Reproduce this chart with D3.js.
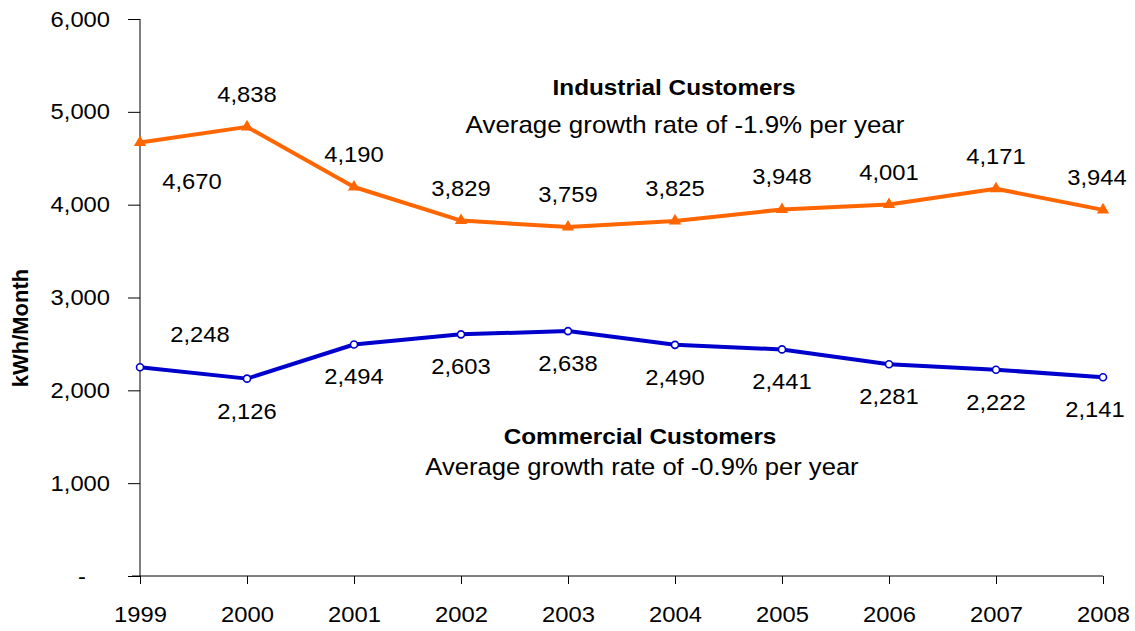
<!DOCTYPE html>
<html>
<head>
<meta charset="utf-8">
<script src="https://cdn.jsdelivr.net/npm/d3@7"></script>
<style>
  html, body { margin: 0; padding: 0; background: #fff; }
  svg text { font-family: "Liberation Sans", Arial, sans-serif; fill: #000; }
</style>
</head>
<body>
<svg id="chart" width="1135" height="631"></svg>
<script>
// Average monthly consumption per customer, 1999-2008
const years = ["1999", "2000", "2001", "2002", "2003", "2004", "2005", "2006", "2007", "2008"];
const industrial = [4670, 4838, 4190, 3829, 3759, 3825, 3948, 4001, 4171, 3944];
const commercial = [2248, 2126, 2494, 2603, 2638, 2490, 2441, 2281, 2222, 2141];
const yTicks = [0, 1000, 2000, 3000, 4000, 5000, 6000];
const industrialTitle = "Industrial Customers";
const industrialNote = "Average growth rate of -1.9% per year";
const commercialTitle = "Commercial Customers";
const commercialNote = "Average growth rate of -0.9% per year";
const yAxisTitle = "kWh/Month";

const svg = d3.select("#chart");
const FONT = 22;
const SX = 1.08; // slightly widened lettering

const x = d3.scalePoint().domain(years).range([140, 1103]);
const y = d3.scaleLinear().domain([0, 6000]).range([576, 19]);
const fmt = d3.format(",");

// text helper: widened glyphs anchored at (px, py)
function label(g, px, py, str, opts = {}) {
  return g.append("text")
    .attr("transform", `translate(${px},${py}) scale(${SX},1)`)
    .attr("text-anchor", opts.anchor || "middle")
    .style("font-size", (opts.size || FONT) + "px")
    .style("font-weight", opts.bold ? "bold" : "normal")
    .text(str);
}

// Y axis
const yAxis = svg.append("g").attr("transform", "translate(140,0)")
  .call(d3.axisLeft(y).tickValues(yTicks).tickSize(12).tickPadding(18)
    .tickFormat(d => d === 0 ? "-" : fmt(d)));
yAxis.select(".domain").attr("d", `M0,${y(6000)}V${y(0)}`).attr("stroke", "#000");
yAxis.selectAll(".tick line").attr("stroke", "#000");
yAxis.selectAll(".tick text")
  .style("font-size", FONT + "px")
  .attr("transform", d => `translate(${d === 0 ? -24 : 0},0) scale(${SX},1)`)
  .attr("x", -30 / SX);

// X axis
const xAxis = svg.append("g").attr("transform", `translate(0,${y(0)})`)
  .call(d3.axisBottom(x).tickSize(8).tickPadding(22));
xAxis.select(".domain").attr("d", "M132,0H1103").attr("stroke", "#000");
xAxis.selectAll(".tick line").attr("stroke", "#000");
xAxis.selectAll(".tick text")
  .style("font-size", FONT + "px")
  .attr("transform", `scale(${SX},1)`);

// axis title
svg.append("text")
  .attr("transform", `translate(28,${(262 + 394) / 2}) rotate(-90)`)
  .attr("text-anchor", "middle")
  .style("font-size", "22px")
  .style("font-weight", "bold")
  .text(yAxisTitle);

const line = d3.line().x((d, i) => x(years[i])).y(d => y(d));

const ORANGE = "#FF6600";
const BLUE = "#0000CC";

// Industrial series
svg.append("path").datum(industrial)
  .attr("d", line).attr("fill", "none")
  .attr("stroke", ORANGE).attr("stroke-width", 4).attr("stroke-linejoin", "round");
svg.append("g").selectAll("path").data(industrial).join("path")
  .attr("transform", (d, i) => `translate(${x(years[i])},${y(d)})`)
  .attr("d", d3.symbol(d3.symbolTriangle, 65))
  .attr("fill", ORANGE);

// Commercial series
svg.append("path").datum(commercial)
  .attr("d", line).attr("fill", "none")
  .attr("stroke", BLUE).attr("stroke-width", 4).attr("stroke-linejoin", "round");
svg.append("g").selectAll("circle").data(commercial).join("circle")
  .attr("cx", (d, i) => x(years[i])).attr("cy", d => y(d))
  .attr("r", 3.5).attr("fill", "#ffffff").attr("stroke", BLUE).attr("stroke-width", 1.6);

// value labels
const lab = svg.append("g");
industrial.forEach((v, i) => {
  const px = x(years[i]), py = y(v);
  if (i === 0) label(lab, px + 52, py + 47, fmt(v));
  else label(lab, px - (i === years.length - 1 ? 6 : 0), py - 25, fmt(v));
});
commercial.forEach((v, i) => {
  const px = x(years[i]), py = y(v);
  if (i === 0) label(lab, px + 60, py - 25, fmt(v));
  else label(lab, px - (i === years.length - 1 ? 8 : 0), py + 40, fmt(v));
});

// series annotations
label(svg, 674, 95, industrialTitle, { bold: true, size: 22.5 });
label(svg, 685, 133, industrialNote, { size: 24 });
label(svg, 640, 444, commercialTitle, { bold: true, size: 22.5 });
label(svg, 642, 475, commercialNote, { size: 23.7 });
</script>
</body>
</html>
